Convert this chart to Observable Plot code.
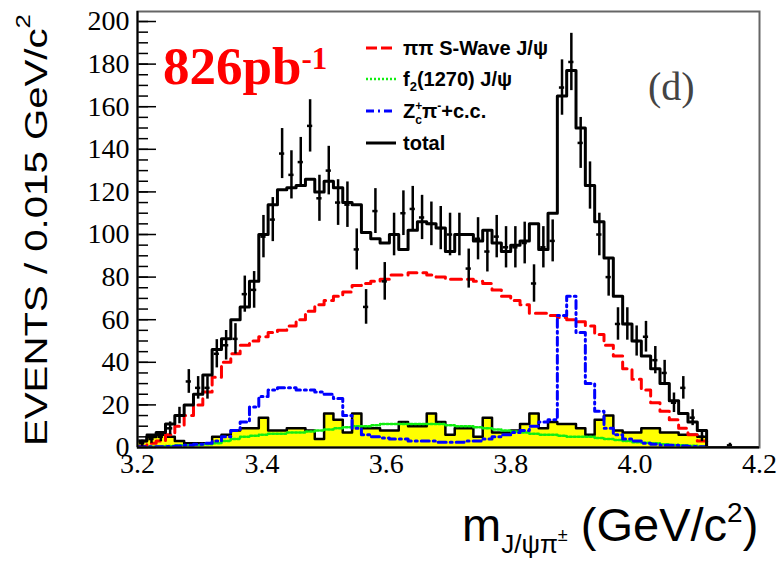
<!DOCTYPE html>
<html><head><meta charset="utf-8">
<script src="https://cdn.jsdelivr.net/npm/d3@7"></script>
<script src="https://cdn.jsdelivr.net/npm/@observablehq/plot@0.6"></script>
<style>
body{margin:0;background:#fff;}
#chart{width:777px;height:566px;}
</style></head><body><div id="chart"></div>
<script>
// Histogram binning: 0.015 GeV/c^2 bins starting at 3.2
const binStart = 3.2;
const binWidth = 0.015;

// Data (events per bin)
const dataCounts = [2,4,5,9,15,31,28,28,44,48, 51,72,74,99,107,138,128,134,151,117,
  130,115,114,93,66,111,78,100,110,112, 108,105,103,100,100,84,98,92,99,94,
  94,96,77,94,97,169,181,143,123,100, 80,58,58,50,52,41,35,21,28,14, 5,0,0,1,0,0,0];

// Fit components
const totalFit = [3,5,7,11,15,20,25,34,46,51, 60,66,78,100,114,121,122,123,126,120,
  125,122,115,114,101,98,96,100,93,102, 106,105,103,92,100,100,97,102,96,92,
  95,97,105,93,110,165,177,150,123,106, 89,71,58,50,43,37,30,22,16,12, 8,0,0,0,0,0,0];
const sWave = [0.5,2,3,6,10,15,20,26,33,40, 44,48,50,52,54,55,57,60,64,67,
  69,71,73,76,77,78,79,81,81,82, 82,81,80,79,79,79,78,77,74,71,
  69,67,63,63,62,61,60,59,57,53, 48,43,37,32,27,21,17,13,9,6, 3,0,0,0,0,0,0];
const f2 = [0.2,0.3,0.5,0.7,1,1,1.2,1.5,2,3, 4,5,5.5,6,6.5,6.5,7,7,7.5,8,
  8.5,9,9.5,10,10,10.5,11,11,11,11, 11,11,11,10.5,10,10,9.5,9,8.5,8,
  7.5,7,6.5,6,6,5.5,5,5,5,4.5, 4,3.5,3,2.5,2.2,2,1.5,1.2,1,0.8, 0.5,0,0,0,0,0,0];
const zc = [0.3,0.3,0.4,0.5,0.7,1,1.5,2,3,5, 8,12,19,24,27,28,28,27,27,26,
  25,23,15,9,6,5,4.5,4,4,3, 3,3,2.5,2.5,2.5,3,3,4,5,6,
  7,8,10,12,13,62,71,54,30,17, 9,6,4,3,2,1.5,1,1,0.7,0.5, 0.3,0,0,0,0,0,0];
const background = [3,6,6,5,3,2,2,2,5,6, 8,9,9,14,8,8,9,9,8,4,
  16,13,7,16,9,9,8,8,12,10, 10,16,12,6,9,9,5,14,7,7,
  8,11,16,9,12,11,11,9,6,13, 15,8,7,7,9,9,7,7,6,6, 5,0,0,0,0,0,0];

// Axis ticks
const yTicks = [0,20,40,60,80,100,120,140,160,180,200];
const yMinorTicks = d3.range(0, 201, 5);
const xTicks = [3.2,3.4,3.6,3.8,4.0,4.2];

function stepRows(vals) {
  const rows = vals.map((v, i) => ({x: binStart + i * binWidth, y: v}));
  rows.push({x: binStart + vals.length * binWidth, y: vals[vals.length - 1]});
  return rows;
}
const points = dataCounts.map((n, i) => ({
  x: binStart + (i + 0.5) * binWidth, n,
  lo: Math.max(0, n - Math.sqrt(n)), hi: n + Math.sqrt(n)
})).filter(d => d.n > 0);

const hw = binWidth * 0.28;

const plot = Plot.plot({
  width: 777, height: 566,
  marginLeft: 137, marginRight: 18, marginTop: 11, marginBottom: 119,
  x: {domain: [3.2, 4.2]},
  y: {domain: [0, 204.7]},
  style: {fontFamily: "Liberation Serif", fontSize: "28px", color: "black", background: "white", overflow: "visible"},
  marks: [
    Plot.areaY(stepRows(background), {x: "x", y: "y", curve: "step-after", fill: "#ffff00", clip: true}),
    Plot.line(stepRows(background), {x: "x", y: "y", curve: "step-after", stroke: "black", strokeWidth: 2.5, clip: true}),
    Plot.line(stepRows(f2), {x: "x", y: "y", curve: "step-after", stroke: "#11ee11", strokeWidth: 2.5, strokeDasharray: "2,2", clip: true}),
    Plot.line(stepRows(sWave), {x: "x", y: "y", curve: "step-after", stroke: "#ff0000", strokeWidth: 3, strokeDasharray: "11,6", clip: true}),
    Plot.line(stepRows(zc), {x: "x", y: "y", curve: "step-after", stroke: "#0000ff", strokeWidth: 3, strokeDasharray: "8,4,2,4", clip: true}),
    Plot.line(stepRows(totalFit), {x: "x", y: "y", curve: "step-after", stroke: "black", strokeWidth: 3, clip: true}),
    Plot.ruleX(points, {x: "x", y1: "lo", y2: "hi", stroke: "black", strokeWidth: 2.5}),
    Plot.ruleY(points, {y: "n", x1: d => d.x - hw, x2: d => d.x + hw, stroke: "black", strokeWidth: 2.5}),
    Plot.tickY(yMinorTicks, {y: d => d, insetRight: 611, stroke: "black", strokeWidth: 1.5}),
    Plot.tickY(yTicks, {y: d => d, insetRight: 603, stroke: "black", strokeWidth: 1.5}),
    Plot.frame({stroke: "#666", strokeWidth: 2}),
    Plot.ruleX([3.2], {stroke: "black", strokeWidth: 2}),
    Plot.ruleY([0], {stroke: "black", strokeWidth: 2}),
    Plot.axisY(yTicks, {tickSize: 0, tickPadding: 8, fontSize: 28, label: null}),
    Plot.axisX(xTicks, {tickSize: 0, tickPadding: 6, fontSize: 28, label: null, tickFormat: d => d.toFixed(1)})
  ]
});
document.getElementById("chart").appendChild(plot);

const svg = d3.select(plot);
const ann = svg.append("g").attr("text-anchor", "start");

// Y axis title
const yt = ann.append("text")
  .attr("transform", "translate(36,230) rotate(-90)")
  .attr("text-anchor", "middle").attr("dominant-baseline", "central")
  .attr("font-family", "Liberation Sans").attr("font-size", 31).attr("fill", "black")
  .attr("textLength", 432).attr("lengthAdjust", "spacingAndGlyphs");
yt.append("tspan").text("EVENTS / 0.015 GeV/c");
yt.append("tspan").attr("font-size", 20).attr("dy", -13).text("2");

// X axis title
const xt = ann.append("text").attr("x", 462).attr("y", 541)
  .attr("font-family", "Liberation Sans").attr("font-size", 47).attr("fill", "black");
xt.append("tspan").text("m");
xt.append("tspan").attr("font-size", 26).attr("dy", 12).text("J/ψπ");
xt.append("tspan").attr("font-size", 18).attr("dy", -12).text("±");
xt.append("tspan").attr("font-size", 47).attr("dy", 0).text(" (GeV/c");
xt.append("tspan").attr("font-size", 28).attr("dy", -19).text("2");
xt.append("tspan").attr("font-size", 47).attr("dy", 19).text(")");

// Luminosity label
const lum = ann.append("text").attr("x", 163).attr("y", 84)
  .attr("font-family", "Liberation Serif").attr("font-weight", "bold")
  .attr("font-size", 53).attr("fill", "#ff0000");
lum.append("tspan").text("826pb");
lum.append("tspan").attr("font-size", 31).attr("dy", -15).text("-1");

// Panel label
ann.append("text").attr("x", 648).attr("y", 100)
  .attr("font-family", "Liberation Serif").attr("font-size", 40).attr("fill", "#444")
  .text("(d)");

// Legend
const legend = [
  {y: 48, stroke: "#ff0000", dash: "11,4", width: 3},
  {y: 79, stroke: "#11ee11", dash: "2,2", width: 2.5},
  {y: 111, stroke: "#0000ff", dash: "8,4,2,4", width: 3},
  {y: 143, stroke: "black", dash: null, width: 3}
];
legend.forEach(l => {
  ann.append("line").attr("x1", 366).attr("x2", 396).attr("y1", l.y).attr("y2", l.y)
    .attr("stroke", l.stroke).attr("stroke-width", l.width)
    .attr("stroke-dasharray", l.dash);
});
const lt = (y) => ann.append("text").attr("x", 403).attr("y", y + 7)
  .attr("font-family", "Liberation Sans").attr("font-weight", "bold")
  .attr("font-size", 20).attr("fill", "black");
lt(48).text("ππ S-Wave J/ψ");
const t2 = lt(79);
t2.append("tspan").text("f");
t2.append("tspan").attr("font-size", 13).attr("dy", 5).text("2");
t2.append("tspan").attr("dy", -5).text("(1270) J/ψ");
const t3 = lt(111);
t3.append("tspan").text("Z");
t3.append("tspan").attr("font-size", 12).attr("dy", -8).text("+");
t3.append("tspan").attr("font-size", 12).attr("dx", -7).attr("dy", 14).text("c");
t3.append("tspan").attr("dy", -6).text("π");
t3.append("tspan").attr("font-size", 12).attr("dy", -8).text("-");
t3.append("tspan").attr("dy", 8).text("+c.c.");
lt(143).text("total");
</script>
</body></html>
